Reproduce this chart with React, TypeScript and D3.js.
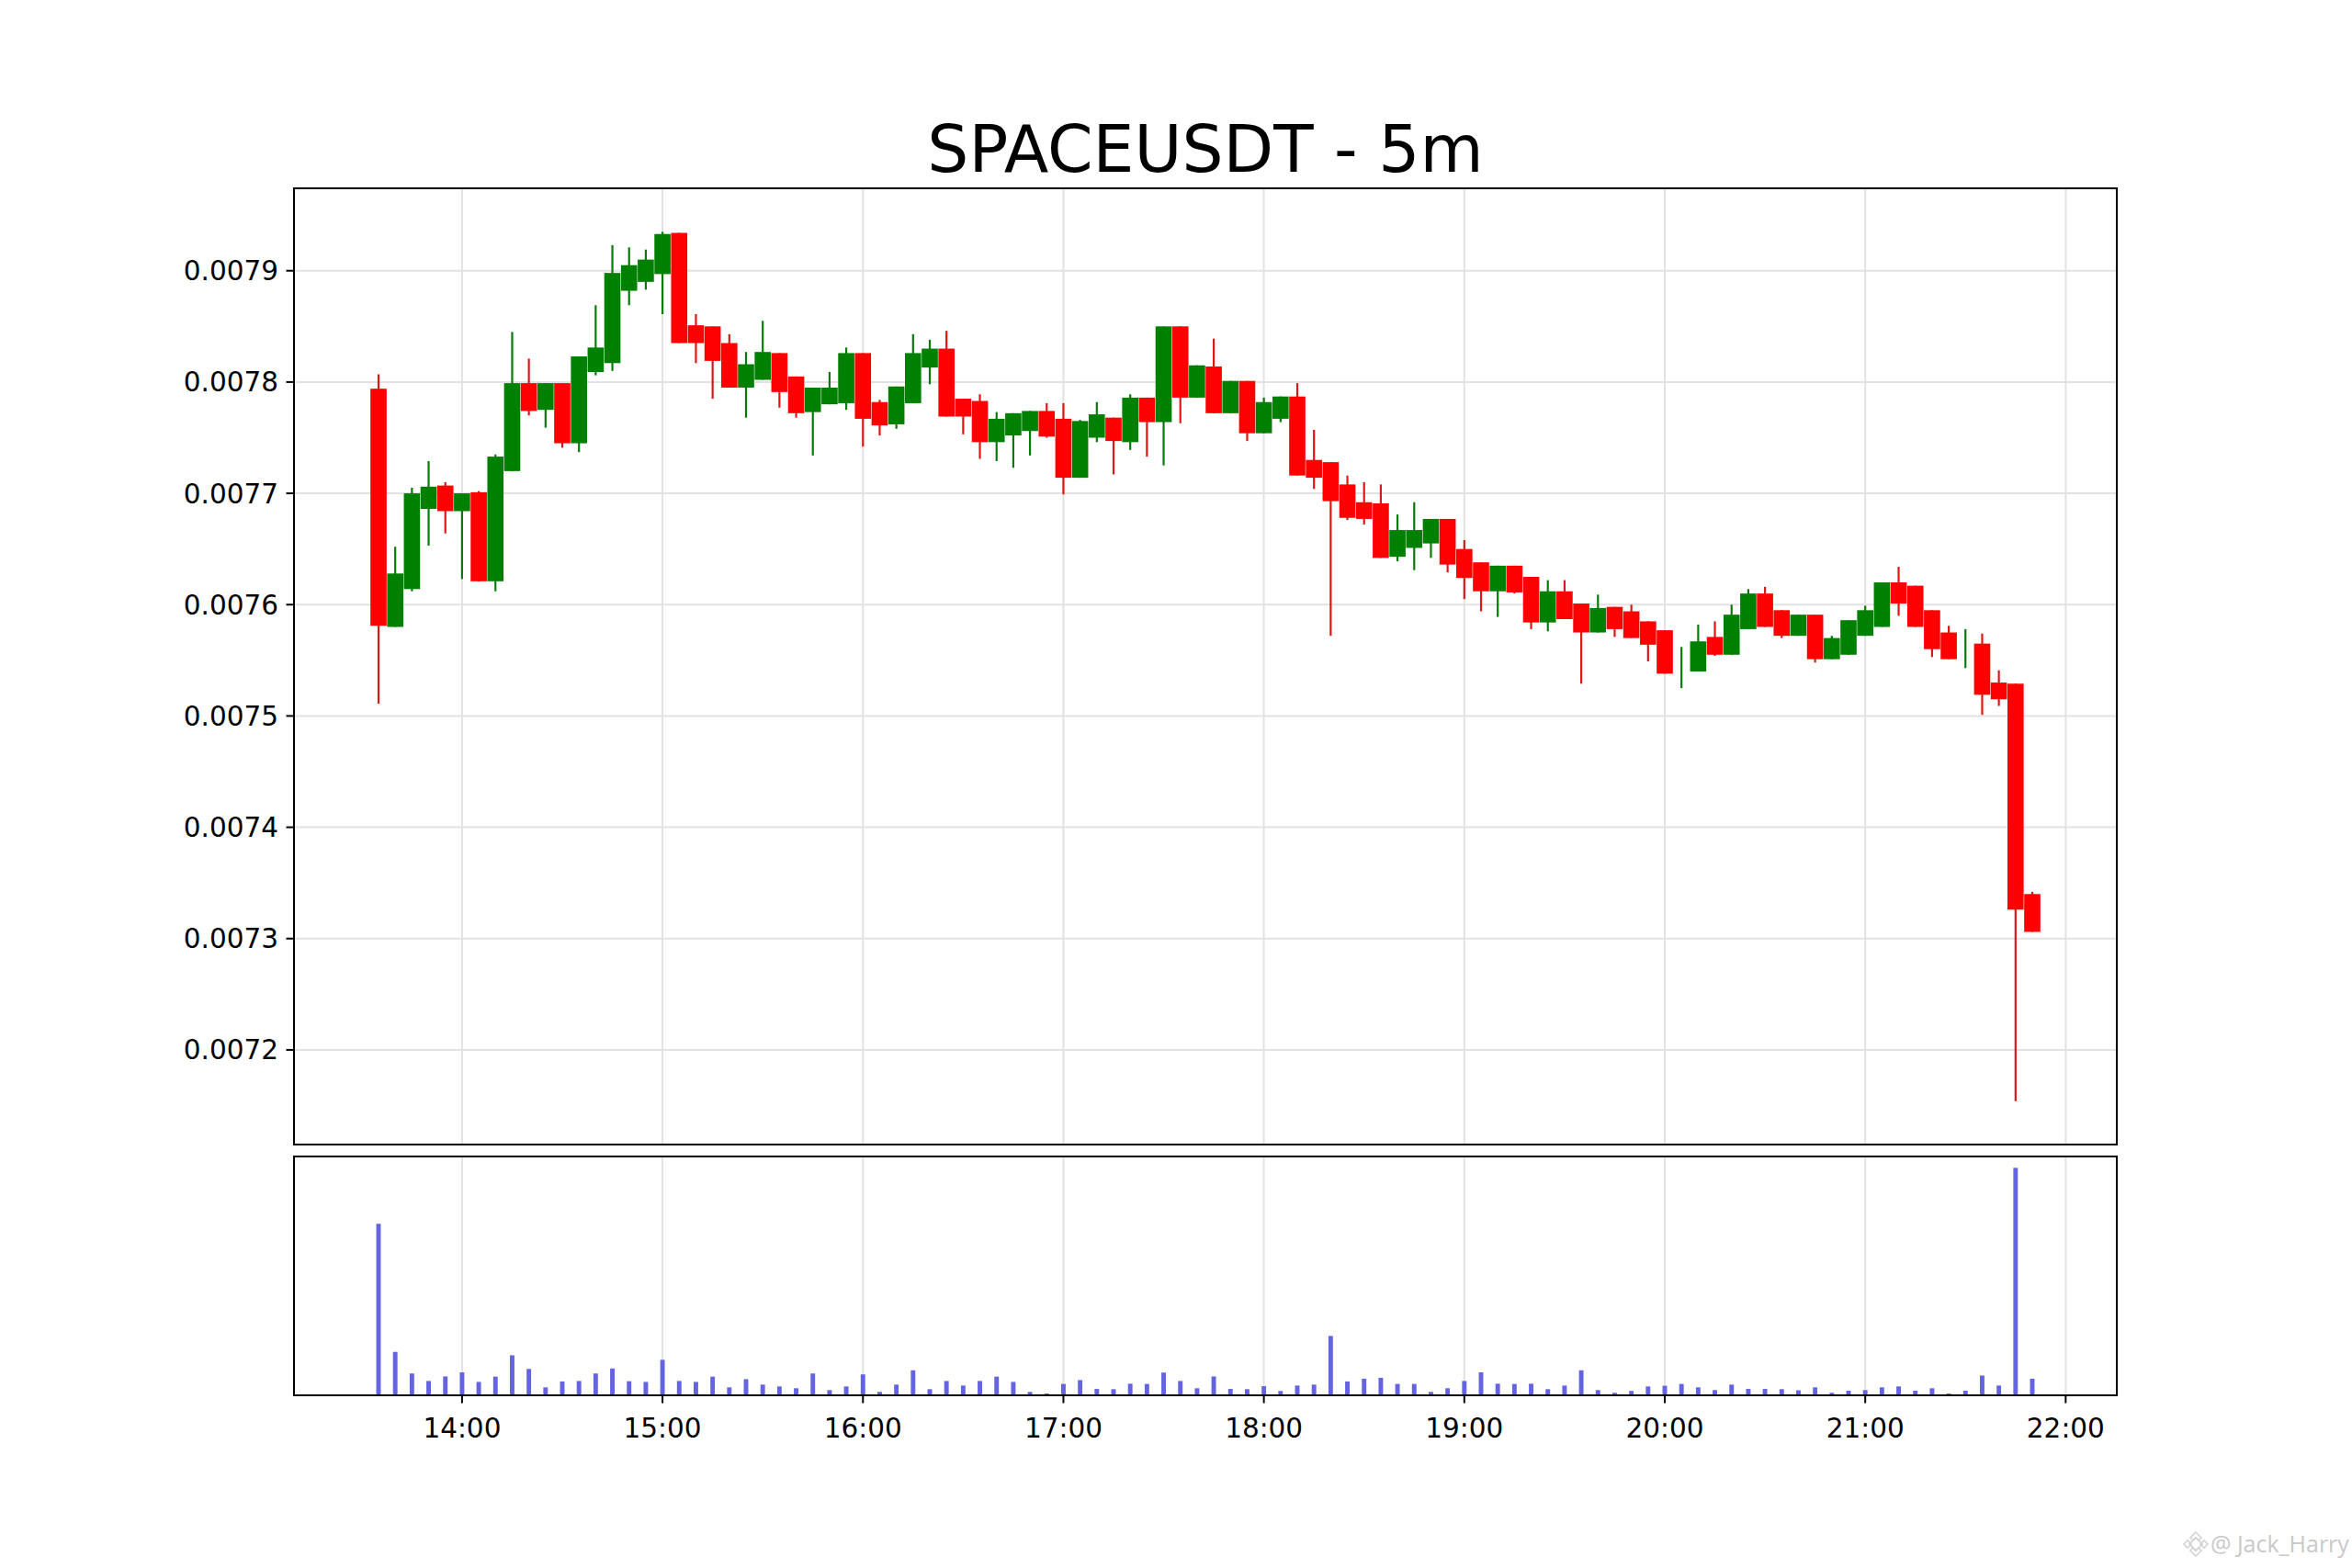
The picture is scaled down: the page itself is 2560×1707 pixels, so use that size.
import React from "react";
import * as d3 from "d3";

// ---- data ----
const TITLE = "SPACEUSDT - 5m";
const START = { hour: 13, minute: 35 }; // first candle
const INTERVAL_MIN = 5;

const OPEN = [
  0.007794, 0.00758, 0.007614, 0.007686, 0.007707, 0.007684, 0.007701, 0.007621, 0.00772, 0.007799,
  0.007775, 0.007799, 0.007745, 0.007809, 0.007817, 0.007882, 0.00789, 0.007897, 0.007934, 0.007851,
  0.00785, 0.007835, 0.007795, 0.007802, 0.007826, 0.007805, 0.007773, 0.00778, 0.007781, 0.007826,
  0.007782, 0.007762, 0.007781, 0.007813, 0.00783, 0.007785, 0.007783, 0.007746, 0.007752, 0.007756,
  0.007774, 0.007767, 0.007714, 0.00775, 0.007768, 0.007746, 0.007786, 0.007764, 0.00785, 0.007786,
  0.007814, 0.007772, 0.007801, 0.007754, 0.007767, 0.007787, 0.00773, 0.007728, 0.007708, 0.007692,
  0.007691, 0.007643, 0.007651, 0.007655, 0.007677, 0.00765, 0.007638, 0.007612, 0.007635, 0.007625,
  0.007584, 0.007612, 0.007601, 0.007575, 0.007598, 0.007594, 0.007585, 0.007577, 0.007545, 0.00754,
  0.007571, 0.007555, 0.007578, 0.00761, 0.007595, 0.007572, 0.007591, 0.007551, 0.007555, 0.007572,
  0.00758, 0.00762, 0.007617, 0.007595, 0.007575, 0.00756, 0.007565, 0.00753, 0.007529, 0.00734,
];
const HIGH = [
  0.007807, 0.007652, 0.007705, 0.007729, 0.00771, 0.0077, 0.007702, 0.007735, 0.007845, 0.007821,
  0.007799, 0.007799, 0.007823, 0.007869, 0.007923, 0.007921, 0.007919, 0.007935, 0.007934, 0.007861,
  0.00785, 0.007843, 0.007827, 0.007855, 0.007826, 0.007805, 0.007795, 0.007809, 0.007831, 0.007826,
  0.007784, 0.007796, 0.007843, 0.007838, 0.007846, 0.007785, 0.007789, 0.007773, 0.007772, 0.007774,
  0.007781, 0.007781, 0.007766, 0.007782, 0.007768, 0.007789, 0.007786, 0.00785, 0.00785, 0.007815,
  0.007839, 0.007801, 0.007801, 0.007786, 0.007787, 0.007799, 0.007757, 0.007728, 0.007716, 0.00771,
  0.007708, 0.007681, 0.007692, 0.007677, 0.007677, 0.007658, 0.007638, 0.007635, 0.007635, 0.007625,
  0.007622, 0.007622, 0.007601, 0.007609, 0.007598, 0.0076, 0.007585, 0.007577, 0.007562, 0.007582,
  0.007585, 0.0076, 0.007614, 0.007616, 0.007595, 0.007591, 0.007591, 0.007572, 0.007586, 0.007599,
  0.00762, 0.007634, 0.007617, 0.007595, 0.007581, 0.007578, 0.007574, 0.007541, 0.007529, 0.007342,
];
const LOW = [
  0.007511, 0.00758, 0.007612, 0.007653, 0.007664, 0.007623, 0.007621, 0.007612, 0.00772, 0.00777,
  0.007759, 0.007741, 0.007737, 0.007806, 0.00781, 0.007869, 0.007883, 0.007861, 0.007835, 0.007817,
  0.007785, 0.007795, 0.007768, 0.007802, 0.007777, 0.007768, 0.007734, 0.00778, 0.007775, 0.007742,
  0.007752, 0.007758, 0.007781, 0.007798, 0.007769, 0.007753, 0.007731, 0.007729, 0.007723, 0.007734,
  0.00775, 0.007699, 0.007714, 0.007746, 0.007717, 0.007739, 0.007733, 0.007725, 0.007763, 0.007786,
  0.007772, 0.007772, 0.007747, 0.007754, 0.007764, 0.007716, 0.007704, 0.007572, 0.007676, 0.007672,
  0.007642, 0.007639, 0.007631, 0.007642, 0.007629, 0.007605, 0.007594, 0.007589, 0.00761, 0.007578,
  0.007576, 0.007587, 0.007529, 0.007575, 0.007571, 0.00757, 0.007549, 0.007538, 0.007525, 0.00754,
  0.007554, 0.007555, 0.007578, 0.00758, 0.00757, 0.007572, 0.007548, 0.007551, 0.007555, 0.007572,
  0.00758, 0.00759, 0.00758, 0.007553, 0.007551, 0.007543, 0.007501, 0.007509, 0.007154, 0.007306,
];
const CLOSE = [
  0.007581, 0.007628, 0.0077, 0.007706, 0.007684, 0.0077, 0.007621, 0.007733, 0.007799, 0.007774,
  0.007799, 0.007745, 0.007823, 0.007831, 0.007898, 0.007905, 0.00791, 0.007933, 0.007835, 0.007835,
  0.007819, 0.007795, 0.007816, 0.007827, 0.007791, 0.007772, 0.007795, 0.007795, 0.007826, 0.007767,
  0.007761, 0.007796, 0.007826, 0.00783, 0.007769, 0.007769, 0.007746, 0.007767, 0.007772, 0.007774,
  0.007751, 0.007714, 0.007765, 0.007771, 0.007747, 0.007786, 0.007764, 0.00785, 0.007786, 0.007815,
  0.007772, 0.007801, 0.007754, 0.007782, 0.007787, 0.007716, 0.007714, 0.007693, 0.007678, 0.007677,
  0.007642, 0.007667, 0.007667, 0.007677, 0.007636, 0.007624, 0.007612, 0.007635, 0.007611, 0.007584,
  0.007612, 0.007587, 0.007575, 0.007597, 0.007578, 0.00757, 0.007564, 0.007538, 0.007545, 0.007567,
  0.007555, 0.007591, 0.00761, 0.00758, 0.007572, 0.007591, 0.007551, 0.00757, 0.007586, 0.007595,
  0.00762, 0.007601, 0.00758, 0.00756, 0.007551, 0.00756, 0.007519, 0.007515, 0.007326, 0.007306,
];
const VOLUME = [
  75.4, 19.1, 9.6, 6.3, 8.3, 10.1, 5.9, 8.2, 17.6, 11.6,
  3.5, 6.1, 6.3, 9.6, 11.8, 6.2, 5.9, 15.6, 6.3, 5.9,
  8.2, 3.5, 7.1, 4.7, 3.9, 3.1, 9.6, 2.3, 3.9, 9.2,
  1.5, 4.7, 11.0, 2.7, 6.3, 4.3, 6.3, 8.2, 5.9, 1.5,
  0.8, 5.0, 6.7, 2.8, 2.7, 5.1, 5.0, 10.0, 6.3, 3.1,
  8.3, 2.8, 2.7, 4.0, 1.9, 4.3, 4.7, 26.1, 6.1, 7.3,
  7.7, 5.0, 5.0, 1.5, 3.1, 6.3, 10.1, 5.1, 5.0, 5.1,
  2.7, 4.3, 11.0, 2.3, 1.1, 1.9, 3.9, 4.2, 5.0, 3.5,
  2.3, 4.7, 2.8, 2.8, 2.7, 2.2, 3.5, 1.1, 2.0, 2.3,
  3.5, 3.9, 2.0, 3.1, 0.8, 2.0, 8.7, 4.3, 100, 7.3,
];
const Y_TICKS = [0.0072, 0.0073, 0.0074, 0.0075, 0.0076, 0.0077, 0.0078, 0.0079];
const X_TICK_HOURS = [14, 15, 16, 17, 18, 19, 20, 21, 22];
const WATERMARK = "@ Jack_Harry";

// ---- layout ----
const W = 2560;
const H = 1707;
const AX_L = 320;
const AX_R = 2304;
const MAIN_T = 205;
const MAIN_B = 1246;
const VOL_T = 1259;
const VOL_B = 1519;
const FONT = "'DejaVu Sans', sans-serif";
const UP = "#008000";
const DOWN = "#ff0000";
const GRID = "#e2e2e2";
const TICK_FS = 29.5;

const day = (h: number, m: number) => new Date(2024, 0, 1, h, m, 0);

export default function App() {
  const n = OPEN.length;
  const t0 = day(START.hour, START.minute);
  const times = d3.range(n).map((i) => d3.timeMinute.offset(t0, i * INTERVAL_MIN));
  const padMs = 25.3 * 60000;
  const x = d3
    .scaleTime()
    .domain([new Date(times[0].getTime() - padMs), new Date(times[n - 1].getTime() + padMs)])
    .range([AX_L, AX_R]);
  const step = x(times[1]) - x(times[0]);

  const lo = d3.min(LOW) as number;
  const hi = d3.max(HIGH) as number;
  const pad = (hi - lo) * 0.05;
  const y = d3.scaleLinear().domain([lo - pad, hi + pad]).range([MAIN_B, MAIN_T]);
  const yv = d3
    .scaleLinear()
    .domain([0, (d3.max(VOLUME) as number) * 1.05])
    .range([VOL_B, VOL_T]);

  const xTicks = X_TICK_HOURS.map((h) => day(h, 0));
  const fmt = d3.timeFormat("%H:%M");
  const bodyW = step * 0.97;
  const volW = step * 0.27;

  return (
    <svg
      width={W}
      height={H}
      viewBox={`0 0 ${W} ${H}`}
      style={{ position: "absolute", left: 0, top: 0, display: "block", background: "#fff" }}
      fontFamily={FONT}
    >
      <rect x={0} y={0} width={W} height={H} fill="#ffffff" />
      <text x={(AX_L + AX_R) / 2} y={187} textAnchor="middle" fontSize={71} fill="#000">
        {TITLE}
      </text>

      {/* grids */}
      <g stroke={GRID} strokeWidth={2}>
        {Y_TICKS.map((v) => (
          <line key={"gy" + v} x1={AX_L} x2={AX_R} y1={y(v)} y2={y(v)} />
        ))}
        {xTicks.map((t) => (
          <g key={"gx" + t.getTime()}>
            <line x1={x(t)} x2={x(t)} y1={MAIN_T} y2={MAIN_B} />
            <line x1={x(t)} x2={x(t)} y1={VOL_T} y2={VOL_B} />
          </g>
        ))}
      </g>

      {/* candles */}
      <g>
        {times.map((t, i) => {
          const o = OPEN[i];
          const c = CLOSE[i];
          const up = c >= o;
          const col = up ? UP : DOWN;
          const cx = x(t);
          const top = y(Math.max(o, c));
          const bot = y(Math.min(o, c));
          return (
            <g key={"c" + i}>
              <line
                x1={cx}
                x2={cx}
                y1={y(HIGH[i])}
                y2={y(LOW[i])}
                stroke={up ? "#0a7a0a" : "#dd1616"}
                strokeWidth={2.2}
              />
              {bot - top > 0.3 && (
                <rect x={cx - bodyW / 2} y={top} width={bodyW} height={bot - top} fill={col} />
              )}
            </g>
          );
        })}
      </g>

      {/* volume */}
      <g fill="#6464e0">
        {times.map((t, i) => (
          <rect
            key={"v" + i}
            x={x(t) - volW / 2}
            y={yv(VOLUME[i])}
            width={volW}
            height={VOL_B - yv(VOLUME[i])}
          />
        ))}
      </g>

      {/* spines */}
      <rect x={AX_L} y={MAIN_T} width={AX_R - AX_L} height={MAIN_B - MAIN_T} fill="none" stroke="#000" strokeWidth={2} />
      <rect x={AX_L} y={VOL_T} width={AX_R - AX_L} height={VOL_B - VOL_T} fill="none" stroke="#000" strokeWidth={2} />

      {/* y ticks */}
      <g>
        {Y_TICKS.map((v) => (
          <g key={"yt" + v}>
            <line x1={AX_L - 8.5} x2={AX_L} y1={y(v)} y2={y(v)} stroke="#000" strokeWidth={2} />
            <text x={AX_L - 17} y={y(v) + 10.5} textAnchor="end" fontSize={TICK_FS} fill="#000">
              {v.toFixed(4)}
            </text>
          </g>
        ))}
      </g>

      {/* x ticks */}
      <g>
        {xTicks.map((t) => (
          <g key={"xt" + t.getTime()}>
            <line x1={x(t)} x2={x(t)} y1={VOL_B} y2={VOL_B + 8.5} stroke="#000" strokeWidth={2} />
            <text x={x(t)} y={1565} textAnchor="middle" fontSize={TICK_FS} fill="#000">
              {fmt(t)}
            </text>
          </g>
        ))}
      </g>

      {/* watermark */}
      <g opacity={0.9}>
        <g transform="translate(2390,1681)" fill="none" stroke="#cfcfcf" strokeWidth={1.6}>
          <rect x={-5} y={-5} width={10} height={10} transform="rotate(45)" />
          <path d="M-13,0 L-9,-4 L-5,0 L-9,4 Z" />
          <path d="M13,0 L9,-4 L5,0 L9,4 Z" />
          <path d="M0,-13 L6,-7 L3,-4 L0,-7 L-3,-4 L-6,-7 Z" />
          <path d="M0,13 L6,7 L3,4 L0,7 L-3,4 L-6,7 Z" />
        </g>
        <text x={2406} y={1690} fontSize={25} fill="#c4c4c4" fontFamily="'Open Sans', sans-serif">
          {WATERMARK}
        </text>
      </g>
    </svg>
  );
}
